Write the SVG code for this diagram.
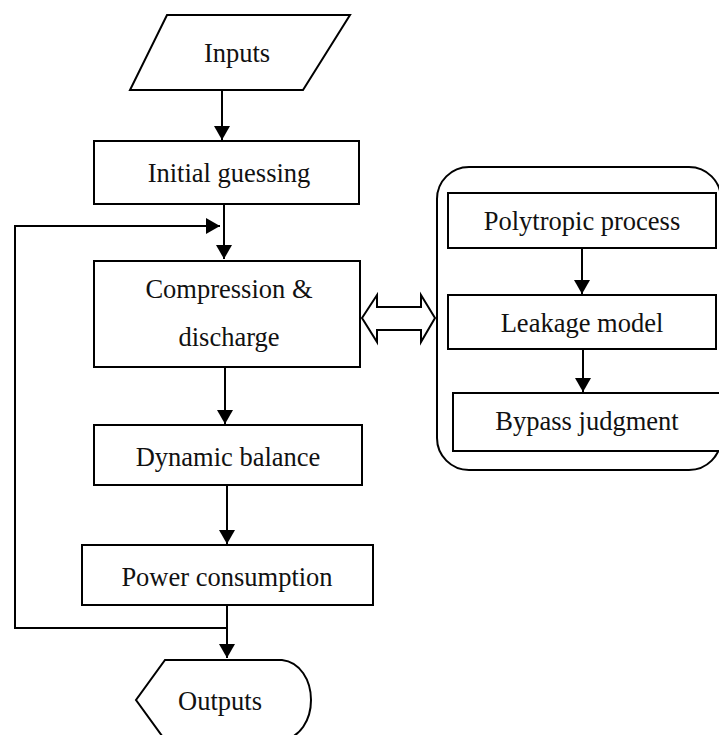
<svg xmlns="http://www.w3.org/2000/svg" width="719" height="735" viewBox="0 0 719 735">
<style>
.s{fill:#fff;stroke:#000;stroke-width:2}
.t{font-family:"Liberation Serif","Times New Roman",serif;font-size:26.5px;fill:#111;text-anchor:middle}
.c{fill:none;stroke:#000;stroke-width:2}
</style>
<defs>
<marker id="ah" markerWidth="14" markerHeight="16" refX="14" refY="8" orient="auto" markerUnits="userSpaceOnUse">
<path d="M0,0 L14,8 L0,16 Z" fill="#000"/>
</marker>
</defs>
<rect width="719" height="735" fill="#fff"/>
<g id="inputs">
<path class="s" d="M167,15 L350,15 L303,90 L130,90 Z"/>
<text class="t" x="237" y="62">Inputs</text>
</g>
<g id="initial">
<rect class="s" x="94" y="141" width="265" height="63"/>
<text class="t" x="229" y="182">Initial guessing</text>
</g>
<g id="compression">
<rect class="s" x="94" y="261" width="266" height="106"/>
<text class="t" x="229" y="298">Compression &amp;</text>
<text class="t" x="229" y="346">discharge</text>
</g>
<g id="dynamic">
<rect class="s" x="94" y="425" width="268" height="60"/>
<text class="t" x="228" y="466">Dynamic balance</text>
</g>
<g id="power">
<rect class="s" x="82" y="545" width="291" height="60"/>
<text class="t" x="227" y="586">Power consumption</text>
</g>
<g id="outputs">
<path class="s" d="M165,660 L282,660 C300,662 311,680 311,700 C311,720 300,738 282,740 L165,740 L136,700 Z"/>
<text class="t" x="220" y="710">Outputs</text>
</g>
<g id="submodel">
<rect class="s" x="437" y="167" width="284" height="303" rx="32" ry="32"/>
<g id="polytropic">
<rect class="s" x="448" y="193" width="268" height="55"/>
<text class="t" x="582" y="230">Polytropic process</text>
</g>
<g id="leakage">
<rect class="s" x="448" y="295" width="268" height="54"/>
<text class="t" x="582" y="332">Leakage model</text>
</g>
<g id="bypass">
<rect class="s" x="453" y="393" width="280" height="58"/>
<text class="t" x="587" y="430">Bypass judgment</text>
</g>
</g>
<g id="connectors">
<line class="c" x1="222" y1="90" x2="222" y2="140" marker-end="url(#ah)"/>
<line class="c" x1="224" y1="204" x2="224" y2="259" marker-end="url(#ah)"/>
<polyline class="c" points="227,628 15,628 15,226 220,226" marker-end="url(#ah)"/>
<line class="c" x1="225" y1="367" x2="225" y2="424" marker-end="url(#ah)"/>
<line class="c" x1="227" y1="485" x2="227" y2="544" marker-end="url(#ah)"/>
<line class="c" x1="227" y1="605" x2="227" y2="658" marker-end="url(#ah)"/>
<line class="c" x1="582" y1="248" x2="582" y2="294" marker-end="url(#ah)"/>
<line class="c" x1="583" y1="349" x2="583" y2="392" marker-end="url(#ah)"/>
<path class="s" d="M362,318 L377,295 L377,307 L421,307 L421,295 L435,318 L421,342 L421,330 L377,330 L377,342 Z" stroke-width="1.5"/>
</g>
</svg>
